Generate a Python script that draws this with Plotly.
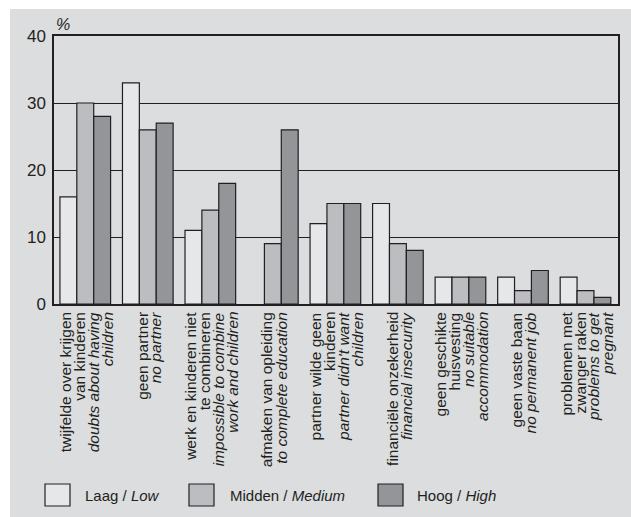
import plotly.graph_objects as go

# ---- data ----
categories = ["twijfelde", "geen partner", "werk/kinderen", "opleiding", "partner",
              "financieel", "huisvesting", "vaste baan", "zwanger"]
label_dutch = [
    ["twijfelde over krijgen", "van kinderen"],
    ["geen partner"],
    ["werk en kinderen niet", "te combineren"],
    ["afmaken van opleiding"],
    ["partner wilde geen", "kinderen"],
    ["financiële onzekerheid"],
    ["geen geschikte", "huisvesting"],
    ["geen vaste baan"],
    ["problemen met", "zwanger raken"],
]
label_english = [
    ["doubts about having", "children"],
    ["no partner"],
    ["impossible to combine", "work and children"],
    ["to complete education"],
    ["partner didn't want", "children"],
    ["financial insecurity"],
    ["no suitable", "accommodation"],
    ["no permanent job"],
    ["problems to get", "pregnant"],
]
series_names_nl = ["Laag", "Midden", "Hoog"]
series_names_en = ["Low", "Medium", "High"]
low = [16, 33, 11, None, 12, 15, 4, 4, 4]
medium = [30, 26, 14, 9, 15, 9, 4, 2, 2]
high = [28, 27, 18, 26, 15, 8, 4, 5, 1]
y_ticks = [0, 10, 20, 30, 40]

# ---- style ----
W, H = 631, 517
L, R, T, B = 54, 13, 36, 213
PW, PH = W - L - R, H - T - B
colors = ["#e6e7e8", "#bcbdc0", "#939598"]
dark = "#231f20"
panel = "#dcddde"
FONT = "Liberation Sans, Arial, sans-serif"


def px_x(x):
    return (x - L) / PW


def px_y(y):
    return (H - B - y) / PH


fig = go.Figure()
for vals, name_nl, name_en, col in zip([low, medium, high], series_names_nl,
                                        series_names_en, colors):
    fig.add_trace(go.Bar(
        x=categories, y=vals, name=f"{name_nl} / {name_en}",
        marker=dict(color=col, line=dict(color=dark, width=1.2)),
        showlegend=False,
    ))

shapes = [
    dict(type="rect", xref="paper", yref="paper",
         x0=px_x(10), x1=px_x(W + 5), y0=px_y(9), y1=px_y(H + 5),
         fillcolor=panel, line=dict(width=0), layer="below"),
]
annotations = [
    dict(text="<i>%</i>", xref="paper", yref="paper", x=0, y=px_y(24),
         xanchor="left", yanchor="middle", showarrow=False,
         font=dict(size=16, color=dark, family=FONT)),
]

# category labels, one annotation per line
LINE = 14
for cat, nl, en in zip(categories, label_dutch, label_english):
    lines = nl + ["<i>" + s + "</i>" for s in en]
    n = len(lines)
    for j, ln in enumerate(lines):
        annotations.append(dict(
            text=ln, x=cat, y=0, xref="x", yref="y",
            xanchor="center", yanchor="top", textangle=-90,
            xshift=(j - (n - 1) / 2) * LINE + 1, yshift=-6,
            showarrow=False,
            font=dict(size=15.5, color=dark, family=FONT),
        ))

# legend drawn manually
sw_x = [45, 189, 378]
tx_x = [83, 228, 415]
for sx, tx, col, nl, en in zip(sw_x, tx_x, colors, series_names_nl, series_names_en):
    shapes.append(dict(type="rect", xref="paper", yref="paper",
                       x0=px_x(sx), x1=px_x(sx + 25), y0=px_y(484), y1=px_y(506),
                       fillcolor=col, line=dict(color=dark, width=1.2)))
    annotations.append(dict(text=f"{nl} / <i>{en}</i>", xref="paper", yref="paper",
                            x=px_x(tx), y=px_y(496), xanchor="left", yanchor="middle",
                            showarrow=False,
                            font=dict(size=15, color=dark, family=FONT)))

fig.update_layout(
    width=W, height=H,
    margin=dict(l=L, r=R, t=T, b=B, pad=0),
    paper_bgcolor="white", plot_bgcolor="white",
    barmode="group", bargap=0.19, bargroupgap=0,
    shapes=shapes, annotations=annotations,
    font=dict(family=FONT, color=dark),
)
fig.update_xaxes(showticklabels=False, showline=True, linecolor=dark, linewidth=1.5,
                 mirror=True, ticks="", showgrid=False, fixedrange=True)
fig.update_yaxes(range=[0, 40], tickvals=y_ticks, showgrid=True, gridcolor=dark,
                 gridwidth=1, showline=True, linecolor=dark, linewidth=1.5, mirror=True,
                 ticks="", ticklabelstandoff=3, zeroline=False,
                 tickfont=dict(size=17, color=dark, family=FONT))

fig.write_html("out.html", config={"displayModeBar": False},
               post_script="document.body.style.margin='0';")
